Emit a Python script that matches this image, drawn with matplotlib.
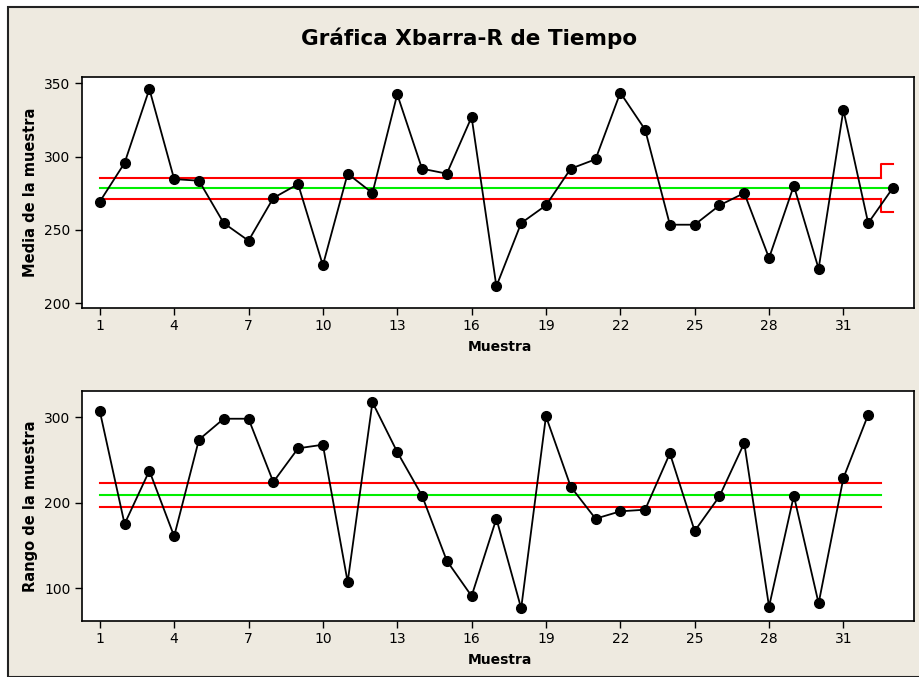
import matplotlib
matplotlib.use("Agg")
import matplotlib.pyplot as plt
import numpy as np
from matplotlib.patches import Rectangle

# datos
muestra_x = list(range(1, 34))
media = [269.3, 295.7, 346.1, 284.7, 283.6, 254.7, 242.7, 271.8, 281.3, 225.9,
         288.4, 275.2, 342.5, 291.8, 288.4, 327.0, 211.6, 254.7, 266.8, 291.8,
         298.2, 343.6, 318.4, 253.6, 253.6, 266.8, 275.2, 230.9, 280.2, 223.6,
         331.8, 254.7, 278.8]
x_lc, x_lcs, x_lci = 278.4, 285.7, 271.1
x_lcs_ult, x_lci_ult = 295.2, 262.5

muestra_r = list(range(1, 33))
rango = [307.0, 174.9, 237.2, 160.5, 273.5, 298.0, 298.0, 224.0, 263.4, 267.6,
         107.0, 317.2, 259.1, 208.0, 131.9, 90.6, 181.1, 76.3, 300.8, 218.5,
         181.1, 189.7, 191.6, 257.5, 166.7, 207.3, 269.6, 78.2, 208.0, 82.1,
         228.7, 302.7]
r_lc, r_lcs, r_lci = 209.2, 223.2, 194.7

ticks = list(range(1, 34, 3))

beige = "#EEEAE0"
fig = plt.figure(figsize=(9.2, 6.77), dpi=100)
fig.patch.set_facecolor("white")
fig.patches.append(Rectangle((8 / 920, 0), 1.0, 1 - 7 / 677, transform=fig.transFigure,
                             facecolor=beige, edgecolor="#222222", linewidth=1.5, zorder=-10))

fig.text(0.510, 1 - 38 / 677, "Gráfica Xbarra-R de Tiempo", ha="center", va="center",
         fontsize=15.5, fontweight="bold")

ax1 = fig.add_axes([0.0888, 0.5446, 0.905, 0.3412])
ax2 = fig.add_axes([0.0888, 0.0827, 0.905, 0.3397])


def estilo(ax, ylim, yticks, ylabel, xlab_y):
    ax.set_facecolor("white")
    ax.set_xlim(0.27, 33.86)
    ax.set_ylim(*ylim)
    ax.set_xticks(ticks)
    ax.set_yticks(yticks)
    ax.tick_params(direction="out", length=5, width=1, labelsize=10, pad=3)
    for s in ax.spines.values():
        s.set_linewidth(1.2)
    ax.set_xlabel("Muestra", fontweight="bold", fontsize=10)
    ax.set_ylabel(ylabel, fontweight="bold", fontsize=10.5)
    ax.xaxis.set_label_coords(0.502, xlab_y)
    ax.yaxis.set_label_coords(-0.062, 0.5)
    ax.xaxis.label.set_va("center")
    ax.yaxis.label.set_va("center")


# grafica de medias
ax1.plot([1, 32.5], [x_lcs, x_lcs], color="red", lw=1.5)
ax1.plot([1, 32.5], [x_lci, x_lci], color="red", lw=1.5)
ax1.plot([32.5, 32.5, 33], [x_lcs, x_lcs_ult, x_lcs_ult], color="red", lw=1.5)
ax1.plot([32.5, 32.5, 33], [x_lci, x_lci_ult, x_lci_ult], color="red", lw=1.5)
ax1.plot([1, 33], [x_lc, x_lc], color="#00ee00", lw=1.5)
ax1.plot(muestra_x, media, color="black", lw=1.3, marker="o", markersize=7)
estilo(ax1, (196.6, 354.1), [200, 250, 300, 350], "Media de la muestra", -0.166)

# grafica de rangos
ax2.plot([1, 32.5], [r_lcs, r_lcs], color="red", lw=1.5)
ax2.plot([1, 32.5], [r_lci, r_lci], color="red", lw=1.5)
ax2.plot([1, 32.5], [r_lc, r_lc], color="#00ee00", lw=1.5)
ax2.plot(muestra_r, rango, color="black", lw=1.3, marker="o", markersize=7)
estilo(ax2, (61.4, 330.4), [100, 200, 300], "Rango de la muestra", -0.170)

fig.savefig("out.png", dpi=100, facecolor=fig.get_facecolor())
